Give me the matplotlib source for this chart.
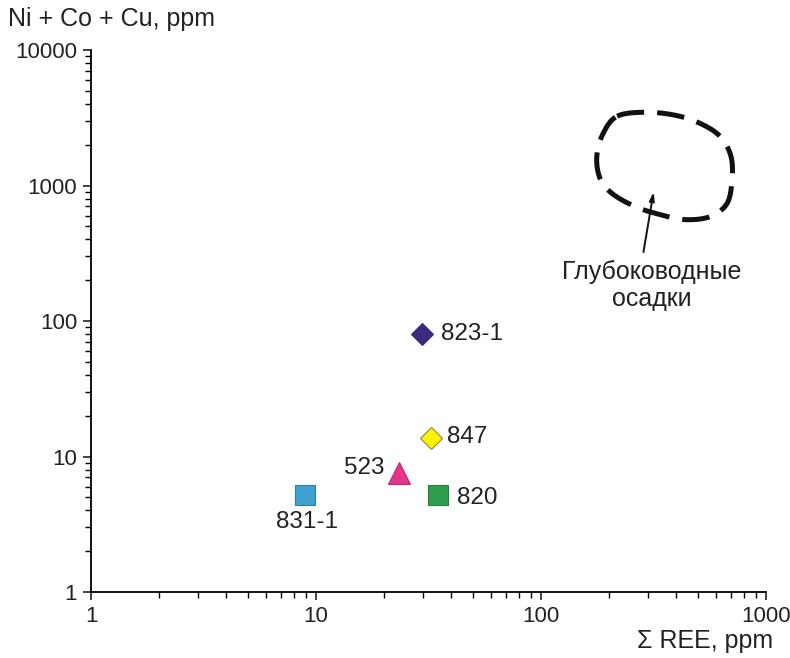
import numpy as np
import matplotlib
matplotlib.use("Agg")
import matplotlib.pyplot as plt

plt.rcParams['font.family'] = ['Liberation Sans', 'DejaVu Sans']

# --- DATI ---
samples = ['823-1', '847', '523', '831-1', '820']
ree = [29.5, 32.3, 23.3, 8.98, 34.8]          # Sum REE, ppm
nicocu = [80, 13.8, 7.6, 5.23, 5.23]          # Ni + Co + Cu, ppm
markers = ['D', 'D', '^', 's', 's']
colors = ['#3b2a7e', '#fff200', '#e8338a', '#3fa0cf', '#2e9e4f']
edges = ['#3b2a7e', '#8c8a3c', '#c0266f', '#2c7fa8', '#23803e']
sizes = [11.5, 11.5, 16, 15, 15]
# offset delle etichette (punti)
label_off = [(14, 0), (11.5, 0.7), (-10.5, 3.6), (1, -20), (13.5, -2.2)]
label_ha = ['left', 'left', 'right', 'center', 'left']

# contorno del campo "Глубоководные осадки" (REE, Ni+Co+Cu)
field_x = [218, 290, 394, 509, 625, 699, 706, 671, 564, 436, 338, 262, 207, 183, 177, 189]
field_y = [3245, 3474, 3303, 2878, 2306, 1640, 1089, 736, 589, 560, 610, 699, 873, 1127, 1640, 2427]


def catmull_rom_closed(px, py, n=20):
    """Spline chiusa in spazio log"""
    pts = np.column_stack([np.log10(px), np.log10(py)])
    m = len(pts)
    out = []
    for i in range(m):
        p0, p1, p2, p3 = pts[i - 1], pts[i], pts[(i + 1) % m], pts[(i + 2) % m]
        for t in np.linspace(0, 1, n, endpoint=False):
            t2, t3 = t * t, t * t * t
            out.append(0.5 * ((2 * p1) + (-p0 + p2) * t + (2 * p0 - 5 * p1 + 4 * p2 - p3) * t2
                              + (-p0 + 3 * p1 - 3 * p2 + p3) * t3))
    out.append(out[0])
    out = np.array(out)
    return 10 ** out[:, 0], 10 ** out[:, 1]


fig = plt.figure(figsize=(7.9, 6.58), dpi=100)
ax = fig.add_axes([0.1152, 0.1003, 0.8544, 0.8237])
ax.set_xscale('log')
ax.set_yscale('log')
ax.set_xlim(1, 1000)
ax.set_ylim(1, 10000)

for s in ['top', 'right']:
    ax.spines[s].set_visible(False)
for s in ['left', 'bottom']:
    ax.spines[s].set_linewidth(1.3)

ax.tick_params(which='major', length=6, width=1.2, labelsize=16, colors='#222222', pad=4)
ax.tick_params(which='minor', length=4, width=1.0)
ax.set_xticks([1, 10, 100, 1000])
ax.set_xticklabels(['1', '10', '100', '1000'])
ax.set_yticks([1, 10, 100, 1000, 10000])
ax.set_yticklabels(['1', '10', '100', '1000', '10000'])

# campo
fx, fy = catmull_rom_closed(field_x, field_y)
ax.plot(fx, fy, color='#111111', lw=3.6, dashes=(5.5, 2.6), dash_capstyle='butt', clip_on=False)
ax.annotate('', xy=(318, 939), xytext=(284, 308),
            arrowprops=dict(arrowstyle='-|>,head_length=0.5,head_width=0.15', color='#111111', lw=1.4))
ax.text(310, 182, 'Глубоководные\nосадки', ha='center', va='center', fontsize=18,
        color='#222222', linespacing=1.15)

# punti
for i in range(len(samples)):
    ax.plot(ree[i], nicocu[i], marker=markers[i], ms=sizes[i], color=colors[i],
            mec=edges[i], mew=0.8, ls='none', zorder=3)
    ax.annotate(samples[i], (ree[i], nicocu[i]), xytext=label_off[i], textcoords='offset points',
                ha=label_ha[i], va='center', fontsize=17.5, color='#222222')

fig.text(8 / 790, 1 - 19 / 658, 'Ni + Co + Cu, ppm', ha='left', va='center', fontsize=18, color='#222222')
fig.text(773 / 790, 1 - 641 / 658, 'Σ REE, ppm', ha='right', va='center', fontsize=18, color='#222222')

fig.savefig('out.png', dpi=100)
